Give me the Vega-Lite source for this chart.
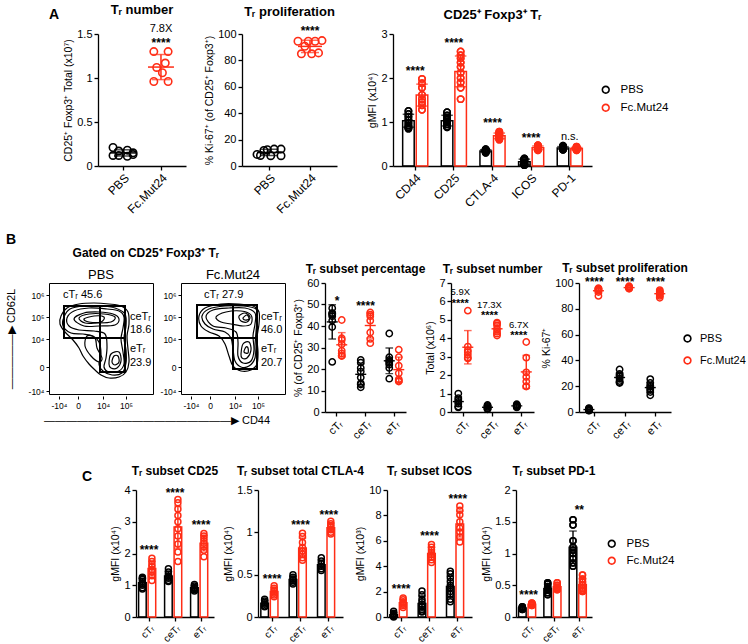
{
"$schema": "https://vega.github.io/schema/vega-lite/v6.json",
"background": "white",
"padding": {"left": 5, "top": 3, "right": 2, "bottom": 2},
"spacing": 17,
"resolve": {"scale": {"color": "independent"}},
"config": {
  "font": "Liberation Sans",
  "view": {"stroke": null},
  "axis": {"grid": false, "domainColor": "black", "domainWidth": 1.3, "tickColor": "black", "tickWidth": 1.3, "tickSize": 4, "labelColor": "black", "labelFontSize": 11, "titleFontSize": 10.5, "titleFontWeight": "normal", "titleColor": "black", "labelPadding": 2, "titlePadding": 3, "labelOverlap": false},
  "title": {"fontSize": 12, "fontWeight": "bold", "color": "black", "offset": 6},
  "header": {"labelColor": "black", "titleColor": "black"},
  "legend": {"labelColor": "black"}
},
"vconcat": [
{
  "spacing": 4,
  "resolve": {"scale": {"color": "independent"}},
  "hconcat": [
    {"width": 10, "height": 132, "title": {"text": "A", "anchor": "end", "fontSize": 14, "dy": -6}, "data": {"values": []}, "mark": "point"},
    {
      "spacing": 56,
      "bounds": "flush",
      "resolve": {"scale": {"color": "independent"}},
      "hconcat": [
    {
      "width": 88, "height": 132,
      "title": {"text": "Tᵣ number", "fontSize": 13},
      "data": {"values": [
        {"g":"PBS","m":1,"v":0.21},{"g":"PBS","m":3,"v":0.17},{"g":"PBS","m":6,"v":0.18},{"g":"PBS","m":8,"v":0.15},
        {"g":"PBS","m":1,"v":0.12},{"g":"PBS","m":3,"v":0.12},{"g":"PBS","m":6,"v":0.11},{"g":"PBS","m":8,"v":0.13},
        {"g":"Fc.Mut24","m":2,"v":1.30},{"g":"Fc.Mut24","m":7,"v":1.30},{"g":"Fc.Mut24","m":6,"v":1.17},{"g":"Fc.Mut24","m":3,"v":1.12},
        {"g":"Fc.Mut24","m":5,"v":1.06},{"g":"Fc.Mut24","m":2,"v":0.96},{"g":"Fc.Mut24","m":7,"v":0.96}
      ]},
      "encoding": {
        "x": {"field":"g","type":"nominal","sort":["PBS","Fc.Mut24"],"scale":{"type":"point","padding":0.66},"axis":{"title":null,"labelAngle":-45,"labelFontSize":12}},
        "color": {"field":"g","type":"nominal","scale":{"domain":["PBS","Fc.Mut24"],"range":["black","#ff2d16"]},"legend":null}
      },
      "layer": [
        {"mark": {"type":"errorbar","extent":"stdev","ticks":true,"thickness":1.5},
         "encoding": {"y": {"field":"v","type":"quantitative","title":"CD25⁺ Foxp3⁺ Total (x10⁷)","scale":{"domain":[0,1.5],"nice":false},"axis":{"values":[0,0.5,1,1.5],"format":"~g","tickCount":20}}}},
        {"mark": {"type":"tick","thickness":1.5,"size":26,"opacity":1},
         "encoding": {"y": {"aggregate":"mean","field":"v","type":"quantitative","title":"CD25⁺ Foxp3⁺ Total (x10⁷)"}}},
        {"mark": {"type":"point","shape":"circle","filled":false,"size":55,"strokeWidth":1.6,"opacity":1},
         "encoding": {"y": {"field":"v","type":"quantitative","title":"CD25⁺ Foxp3⁺ Total (x10⁷)"},
                      "xOffset": {"field":"m","type":"quantitative","scale":{"domain":[1,8],"range":[-10,10]}}}},
        {"data": {"values": [{"g":"Fc.Mut24","y":1.40,"t":"****"}]},
         "mark": {"type":"text","fontSize":12,"fontWeight":"bold","baseline":"middle"},
         "encoding": {"y": {"field":"y","type":"quantitative","title":"CD25⁺ Foxp3⁺ Total (x10⁷)"},"text":{"field":"t"},"color":{"value":"black"}}},
        {"data": {"values": [{"g":"Fc.Mut24","y":1.56,"t":"7.8X"}]},
         "mark": {"type":"text","fontSize":11,"baseline":"middle"},
         "encoding": {"y": {"field":"y","type":"quantitative","title":"CD25⁺ Foxp3⁺ Total (x10⁷)"},"text":{"field":"t"},"color":{"value":"black"}}}
      ]
    },
    {
      "width": 95, "height": 132,
      "title": {"text": "Tᵣ proliferation", "fontSize": 13},
      "data": {"values": [
        {"g":"PBS","m":1,"v":8.8},{"g":"PBS","m":2,"v":8.0},{"g":"PBS","m":3,"v":11.8},{"g":"PBS","m":4,"v":12.3},
        {"g":"PBS","m":5,"v":7.8},{"g":"PBS","m":6,"v":12.8},{"g":"PBS","m":8,"v":12.8},{"g":"PBS","m":8,"v":7.8},
        {"g":"Fc.Mut24","m":1,"v":94.5},{"g":"Fc.Mut24","m":2,"v":85},{"g":"Fc.Mut24","m":3,"v":90.7},{"g":"Fc.Mut24","m":4,"v":94.5},
        {"g":"Fc.Mut24","m":5,"v":85},{"g":"Fc.Mut24","m":6,"v":94.5},{"g":"Fc.Mut24","m":7,"v":85.7},{"g":"Fc.Mut24","m":8,"v":95}
      ]},
      "encoding": {
        "x": {"field":"g","type":"nominal","sort":["PBS","Fc.Mut24"],"scale":{"type":"point","padding":0.66},"axis":{"title":null,"labelAngle":-45,"labelFontSize":12}},
        "color": {"field":"g","type":"nominal","scale":{"domain":["PBS","Fc.Mut24"],"range":["black","#ff2d16"]},"legend":null}
      },
      "layer": [
        {"mark": {"type":"errorbar","extent":"stdev","ticks":true,"thickness":1.5},
         "encoding": {"y": {"field":"v","type":"quantitative","title":"% Ki-67⁺ (of CD25⁺ Foxp3⁺)","scale":{"domain":[0,100],"nice":false},"axis":{"values":[0,20,40,60,80,100],"format":"d","tickCount":20}}}},
        {"mark": {"type":"tick","thickness":1.5,"size":24,"opacity":1},
         "encoding": {"y": {"aggregate":"mean","field":"v","type":"quantitative","title":"% Ki-67⁺ (of CD25⁺ Foxp3⁺)"}}},
        {"mark": {"type":"point","shape":"circle","filled":false,"size":55,"strokeWidth":1.6,"opacity":1},
         "encoding": {"y": {"field":"v","type":"quantitative","title":"% Ki-67⁺ (of CD25⁺ Foxp3⁺)"},
                      "xOffset": {"field":"m","type":"quantitative","scale":{"domain":[1,8],"range":[-12,12]}}}},
        {"data": {"values": [{"g":"Fc.Mut24","y":102,"t":"****"}]},
         "mark": {"type":"text","fontSize":12,"fontWeight":"bold","baseline":"middle"},
         "encoding": {"y": {"field":"y","type":"quantitative","title":"% Ki-67⁺ (of CD25⁺ Foxp3⁺)"},"text":{"field":"t"},"color":{"value":"black"}}}
      ]
    },
    {
      "width": 199, "height": 132,
      "title": {"text": "CD25⁺ Foxp3⁺ Tᵣ", "fontSize": 13},
      "layer": [
        {"data": {"values": [
          {"c":"CD44","g":"PBS","v":1.25},{"c":"CD44","g":"PBS","v":1.18},{"c":"CD44","g":"PBS","v":1.12},{"c":"CD44","g":"PBS","v":1.05},{"c":"CD44","g":"PBS","v":0.98},{"c":"CD44","g":"PBS","v":0.92},{"c":"CD44","g":"PBS","v":0.88},{"c":"CD44","g":"PBS","v":0.85},
          {"c":"CD44","g":"Fc.Mut24","v":1.98},{"c":"CD44","g":"Fc.Mut24","v":1.88},{"c":"CD44","g":"Fc.Mut24","v":1.78},{"c":"CD44","g":"Fc.Mut24","v":1.62},{"c":"CD44","g":"Fc.Mut24","v":1.52},{"c":"CD44","g":"Fc.Mut24","v":1.45},{"c":"CD44","g":"Fc.Mut24","v":1.38},{"c":"CD44","g":"Fc.Mut24","v":1.28},
          {"c":"CD25","g":"PBS","v":1.22},{"c":"CD25","g":"PBS","v":1.15},{"c":"CD25","g":"PBS","v":1.10},{"c":"CD25","g":"PBS","v":1.05},{"c":"CD25","g":"PBS","v":1.00},{"c":"CD25","g":"PBS","v":0.95},{"c":"CD25","g":"PBS","v":0.90},{"c":"CD25","g":"PBS","v":0.88},
          {"c":"CD25","g":"Fc.Mut24","v":2.60},{"c":"CD25","g":"Fc.Mut24","v":2.52},{"c":"CD25","g":"Fc.Mut24","v":2.45},{"c":"CD25","g":"Fc.Mut24","v":2.35},{"c":"CD25","g":"Fc.Mut24","v":2.25},{"c":"CD25","g":"Fc.Mut24","v":2.12},{"c":"CD25","g":"Fc.Mut24","v":2.00},{"c":"CD25","g":"Fc.Mut24","v":1.90},{"c":"CD25","g":"Fc.Mut24","v":1.78},{"c":"CD25","g":"Fc.Mut24","v":1.52},
          {"c":"CTLA-4","g":"PBS","v":0.38},{"c":"CTLA-4","g":"PBS","v":0.36},{"c":"CTLA-4","g":"PBS","v":0.35},{"c":"CTLA-4","g":"PBS","v":0.33},{"c":"CTLA-4","g":"PBS","v":0.32},{"c":"CTLA-4","g":"PBS","v":0.34},{"c":"CTLA-4","g":"PBS","v":0.30},{"c":"CTLA-4","g":"PBS","v":0.37},
          {"c":"CTLA-4","g":"Fc.Mut24","v":0.78},{"c":"CTLA-4","g":"Fc.Mut24","v":0.75},{"c":"CTLA-4","g":"Fc.Mut24","v":0.72},{"c":"CTLA-4","g":"Fc.Mut24","v":0.70},{"c":"CTLA-4","g":"Fc.Mut24","v":0.67},{"c":"CTLA-4","g":"Fc.Mut24","v":0.64},{"c":"CTLA-4","g":"Fc.Mut24","v":0.60},{"c":"CTLA-4","g":"Fc.Mut24","v":0.62},
          {"c":"ICOS","g":"PBS","v":0.17},{"c":"ICOS","g":"PBS","v":0.16},{"c":"ICOS","g":"PBS","v":0.14},{"c":"ICOS","g":"PBS","v":0.12},{"c":"ICOS","g":"PBS","v":0.08},{"c":"ICOS","g":"PBS","v":0.05},{"c":"ICOS","g":"PBS","v":0.03},{"c":"ICOS","g":"PBS","v":0.02},
          {"c":"ICOS","g":"Fc.Mut24","v":0.47},{"c":"ICOS","g":"Fc.Mut24","v":0.46},{"c":"ICOS","g":"Fc.Mut24","v":0.44},{"c":"ICOS","g":"Fc.Mut24","v":0.42},{"c":"ICOS","g":"Fc.Mut24","v":0.40},{"c":"ICOS","g":"Fc.Mut24","v":0.38},{"c":"ICOS","g":"Fc.Mut24","v":0.37},{"c":"ICOS","g":"Fc.Mut24","v":0.36},
          {"c":"PD-1","g":"PBS","v":0.46},{"c":"PD-1","g":"PBS","v":0.44},{"c":"PD-1","g":"PBS","v":0.42},{"c":"PD-1","g":"PBS","v":0.40},{"c":"PD-1","g":"PBS","v":0.38},{"c":"PD-1","g":"PBS","v":0.37},{"c":"PD-1","g":"PBS","v":0.42},{"c":"PD-1","g":"PBS","v":0.39},
          {"c":"PD-1","g":"Fc.Mut24","v":0.44},{"c":"PD-1","g":"Fc.Mut24","v":0.42},{"c":"PD-1","g":"Fc.Mut24","v":0.40},{"c":"PD-1","g":"Fc.Mut24","v":0.38},{"c":"PD-1","g":"Fc.Mut24","v":0.36},{"c":"PD-1","g":"Fc.Mut24","v":0.37},{"c":"PD-1","g":"Fc.Mut24","v":0.41},{"c":"PD-1","g":"Fc.Mut24","v":0.39}
        ]},
         "encoding": {
           "x": {"field":"c","type":"nominal","sort":["CD44","CD25","CTLA-4","ICOS","PD-1"],"scale":{"paddingInner":0.35,"paddingOuter":0.25},"axis":{"title":null,"labelAngle":-45,"labelFontSize":12}},
           "xOffset": {"field":"g","type":"nominal","sort":["PBS","Fc.Mut24"],"scale":{"paddingInner":0.15,"paddingOuter":0}},
           "color": {"field":"g","type":"nominal","sort":["PBS","Fc.Mut24"],"scale":{"domain":["PBS","Fc.Mut24"],"range":["black","#ff2d16"]},
                     "legend":{"title":null,"orient":"none","legendX":207,"legendY":50,"symbolType":"M-1,0A1,1,0,1,0,1,0A1,1,0,1,0,-1,0ZM-0.62,0A0.62,0.62,0,1,1,0.62,0A0.62,0.62,0,1,1,-0.62,0Z","symbolSize":70,"symbolStrokeWidth":0,"symbolOpacity":1,"labelFontSize":11.5,"rowPadding":5,"labelOffset":9,"padding":0}}
         },
         "layer": [
           {"mark": {"type":"point","shape":"circle","filled":false,"size":42,"strokeWidth":1.5,"opacity":1},
            "encoding": {"y": {"field":"v","type":"quantitative","title":"gMFI (x10⁴)","scale":{"domain":[0,3],"nice":false},"axis":{"values":[0,1,2,3],"format":"d","tickCount":20}}}},
           {"mark": {"type":"bar","filled":false,"strokeWidth":1.5},
            "encoding": {"y": {"aggregate":"mean","field":"v","type":"quantitative","title":"gMFI (x10⁴)"}}},
           {"mark": {"type":"errorbar","extent":"stdev","ticks":true,"thickness":1.5},
            "encoding": {"y": {"field":"v","type":"quantitative","title":"gMFI (x10⁴)"}}},
           {"mark": {"type":"point","shape":"circle","filled":false,"size":42,"strokeWidth":1.5,"opacity":1},
            "encoding": {"y": {"field":"v","type":"quantitative","title":"gMFI (x10⁴)"}}}
         ]},
        {"data": {"values": [{"c":"CD44","y":2.17,"t":"****"},{"c":"CD25","y":2.8,"t":"****"},{"c":"CTLA-4","y":0.97,"t":"****"},{"c":"ICOS","y":0.63,"t":"****"}]},
         "mark": {"type":"text","fontSize":12,"fontWeight":"bold","baseline":"middle"},
         "encoding": {"x": {"field":"c","type":"nominal","sort":["CD44","CD25","CTLA-4","ICOS","PD-1"]},"y": {"field":"y","type":"quantitative","title":"gMFI (x10⁴)"},"text":{"field":"t"}}},
        {"data": {"values": [{"c":"PD-1","y":0.66,"t":"n.s."}]},
         "mark": {"type":"text","fontSize":11,"baseline":"middle"},
         "encoding": {"x": {"field":"c","type":"nominal","sort":["CD44","CD25","CTLA-4","ICOS","PD-1"]},"y": {"field":"y","type":"quantitative","title":"gMFI (x10⁴)"},"text":{"field":"t"}}}
      ]
    }
      ]
    }
  ]
},
{
  "spacing": 24,
  "resolve": {"scale": {"color": "independent"}},
  "vconcat": [
  {
    "title": {"text": "B", "anchor": "start", "fontSize": 14, "offset": 0},
    "spacing": 7,
    "resolve": {"scale": {"color": "independent"}},
    "hconcat": [
      {
        "title": {"text": "Gated on CD25⁺ Foxp3⁺ Tᵣ", "fontSize": 12, "offset": 9, "anchor": "middle"},
        "data": {"values": [
          {"k":"g","t":"PBS","r":"1","x":15,"x2":51,"y":56,"y2":88},{"k":"g","t":"PBS","r":"1","x":51,"x2":76,"y":56,"y2":88},{"k":"g","t":"PBS","r":"1","x":51,"x2":76,"y":22,"y2":56},
          {"k":"g","t":"Fc.Mut24","r":"1","x":16,"x2":52,"y":56,"y2":89},{"k":"g","t":"Fc.Mut24","r":"1","x":52,"x2":76,"y":56,"y2":89},{"k":"g","t":"Fc.Mut24","r":"1","x":52,"x2":76,"y":25,"y2":56},
          {"k":"s","t":"PBS","r":"1","x":14,"y":99,"s":"cTᵣ 45.6"},{"k":"s","t":"PBS","r":"1","x":81,"y":77,"s":"ceTᵣ"},{"k":"s","t":"PBS","r":"1","x":81,"y":64,"s":"18.6"},{"k":"s","t":"PBS","r":"1","x":81,"y":45,"s":"eTᵣ"},{"k":"s","t":"PBS","r":"1","x":81,"y":31,"s":"23.9"},
          {"k":"s","t":"Fc.Mut24","r":"1","x":23,"y":99,"s":"cTᵣ 27.9"},{"k":"s","t":"Fc.Mut24","r":"1","x":80,"y":77,"s":"ceTᵣ"},{"k":"s","t":"Fc.Mut24","r":"1","x":80,"y":64,"s":"46.0"},{"k":"s","t":"Fc.Mut24","r":"1","x":80,"y":45,"s":"eTᵣ"},{"k":"s","t":"Fc.Mut24","r":"1","x":80,"y":31,"s":"20.7"},
          {"k":"c","t":"PBS","r":"1","l":"L1","o":1,"x":12,"y":78},{"k":"c","t":"PBS","r":"1","l":"L1","o":2,"x":18,"y":86},{"k":"c","t":"PBS","r":"1","l":"L1","o":3,"x":30,"y":90},{"k":"c","t":"PBS","r":"1","l":"L1","o":4,"x":45,"y":91},{"k":"c","t":"PBS","r":"1","l":"L1","o":5,"x":60,"y":90},{"k":"c","t":"PBS","r":"1","l":"L1","o":6,"x":72,"y":88},{"k":"c","t":"PBS","r":"1","l":"L1","o":7,"x":79,"y":82},{"k":"c","t":"PBS","r":"1","l":"L1","o":8,"x":80,"y":70},{"k":"c","t":"PBS","r":"1","l":"L1","o":9,"x":78,"y":58},{"k":"c","t":"PBS","r":"1","l":"L1","o":10,"x":79,"y":45},{"k":"c","t":"PBS","r":"1","l":"L1","o":11,"x":80,"y":32},{"k":"c","t":"PBS","r":"1","l":"L1","o":12,"x":77,"y":22},{"k":"c","t":"PBS","r":"1","l":"L1","o":13,"x":70,"y":17},{"k":"c","t":"PBS","r":"1","l":"L1","o":14,"x":60,"y":16},{"k":"c","t":"PBS","r":"1","l":"L1","o":15,"x":52,"y":19},{"k":"c","t":"PBS","r":"1","l":"L1","o":16,"x":46,"y":24},{"k":"c","t":"PBS","r":"1","l":"L1","o":17,"x":40,"y":30},{"k":"c","t":"PBS","r":"1","l":"L1","o":18,"x":34,"y":38},{"k":"c","t":"PBS","r":"1","l":"L1","o":19,"x":30,"y":46},{"k":"c","t":"PBS","r":"1","l":"L1","o":20,"x":24,"y":54},{"k":"c","t":"PBS","r":"1","l":"L1","o":21,"x":16,"y":62},{"k":"c","t":"PBS","r":"1","l":"L1","o":22,"x":11,"y":70},
          {"k":"c","t":"PBS","r":"1","l":"L7","o":1,"x":15,"y":77},{"k":"c","t":"PBS","r":"1","l":"L7","o":2,"x":21,"y":85},{"k":"c","t":"PBS","r":"1","l":"L7","o":3,"x":35,"y":88},{"k":"c","t":"PBS","r":"1","l":"L7","o":4,"x":52,"y":88},{"k":"c","t":"PBS","r":"1","l":"L7","o":5,"x":66,"y":86},{"k":"c","t":"PBS","r":"1","l":"L7","o":6,"x":76,"y":80},{"k":"c","t":"PBS","r":"1","l":"L7","o":7,"x":77,"y":68},{"k":"c","t":"PBS","r":"1","l":"L7","o":8,"x":75,"y":56},{"k":"c","t":"PBS","r":"1","l":"L7","o":9,"x":77,"y":44},{"k":"c","t":"PBS","r":"1","l":"L7","o":10,"x":77,"y":31},{"k":"c","t":"PBS","r":"1","l":"L7","o":11,"x":73,"y":21},{"k":"c","t":"PBS","r":"1","l":"L7","o":12,"x":63,"y":19},{"k":"c","t":"PBS","r":"1","l":"L7","o":13,"x":54,"y":23},{"k":"c","t":"PBS","r":"1","l":"L7","o":14,"x":50,"y":30},{"k":"c","t":"PBS","r":"1","l":"L7","o":15,"x":52,"y":40},{"k":"c","t":"PBS","r":"1","l":"L7","o":16,"x":50,"y":52},{"k":"c","t":"PBS","r":"1","l":"L7","o":17,"x":44,"y":58},{"k":"c","t":"PBS","r":"1","l":"L7","o":18,"x":34,"y":60},{"k":"c","t":"PBS","r":"1","l":"L7","o":19,"x":22,"y":61},{"k":"c","t":"PBS","r":"1","l":"L7","o":20,"x":14,"y":68},
          {"k":"c","t":"PBS","r":"1","l":"L2","o":1,"x":18,"y":76},{"k":"c","t":"PBS","r":"1","l":"L2","o":2,"x":25,"y":83},{"k":"c","t":"PBS","r":"1","l":"L2","o":3,"x":40,"y":86},{"k":"c","t":"PBS","r":"1","l":"L2","o":4,"x":58,"y":85},{"k":"c","t":"PBS","r":"1","l":"L2","o":5,"x":70,"y":83},{"k":"c","t":"PBS","r":"1","l":"L2","o":6,"x":75,"y":77},{"k":"c","t":"PBS","r":"1","l":"L2","o":7,"x":74,"y":66},{"k":"c","t":"PBS","r":"1","l":"L2","o":8,"x":72,"y":55},{"k":"c","t":"PBS","r":"1","l":"L2","o":9,"x":74,"y":42},{"k":"c","t":"PBS","r":"1","l":"L2","o":10,"x":75,"y":30},{"k":"c","t":"PBS","r":"1","l":"L2","o":11,"x":70,"y":23},{"k":"c","t":"PBS","r":"1","l":"L2","o":12,"x":60,"y":22},{"k":"c","t":"PBS","r":"1","l":"L2","o":13,"x":55,"y":27},{"k":"c","t":"PBS","r":"1","l":"L2","o":14,"x":57,"y":36},{"k":"c","t":"PBS","r":"1","l":"L2","o":15,"x":58,"y":48},{"k":"c","t":"PBS","r":"1","l":"L2","o":16,"x":56,"y":60},{"k":"c","t":"PBS","r":"1","l":"L2","o":17,"x":45,"y":63},{"k":"c","t":"PBS","r":"1","l":"L2","o":18,"x":30,"y":64},{"k":"c","t":"PBS","r":"1","l":"L2","o":19,"x":20,"y":68},
          {"k":"c","t":"PBS","r":"1","l":"L3","o":1,"x":25,"y":75},{"k":"c","t":"PBS","r":"1","l":"L3","o":2,"x":35,"y":81},{"k":"c","t":"PBS","r":"1","l":"L3","o":3,"x":50,"y":82},{"k":"c","t":"PBS","r":"1","l":"L3","o":4,"x":64,"y":80},{"k":"c","t":"PBS","r":"1","l":"L3","o":5,"x":70,"y":75},{"k":"c","t":"PBS","r":"1","l":"L3","o":6,"x":66,"y":69},{"k":"c","t":"PBS","r":"1","l":"L3","o":7,"x":50,"y":68},{"k":"c","t":"PBS","r":"1","l":"L3","o":8,"x":35,"y":68},
          {"k":"c","t":"PBS","r":"1","l":"L8","o":1,"x":30,"y":76},{"k":"c","t":"PBS","r":"1","l":"L8","o":2,"x":40,"y":80},{"k":"c","t":"PBS","r":"1","l":"L8","o":3,"x":55,"y":80},{"k":"c","t":"PBS","r":"1","l":"L8","o":4,"x":66,"y":77},{"k":"c","t":"PBS","r":"1","l":"L8","o":5,"x":62,"y":72},{"k":"c","t":"PBS","r":"1","l":"L8","o":6,"x":48,"y":71},{"k":"c","t":"PBS","r":"1","l":"L8","o":7,"x":36,"y":71},
          {"k":"c","t":"PBS","r":"1","l":"L4","o":1,"x":60,"y":30},{"k":"c","t":"PBS","r":"1","l":"L4","o":2,"x":62,"y":40},{"k":"c","t":"PBS","r":"1","l":"L4","o":3,"x":70,"y":42},{"k":"c","t":"PBS","r":"1","l":"L4","o":4,"x":72,"y":33},{"k":"c","t":"PBS","r":"1","l":"L4","o":5,"x":68,"y":26},{"k":"c","t":"PBS","r":"1","l":"L4","o":6,"x":62,"y":26},
          {"k":"c","t":"PBS","r":"1","l":"L9","o":1,"x":63,"y":32},{"k":"c","t":"PBS","r":"1","l":"L9","o":2,"x":65,"y":38},{"k":"c","t":"PBS","r":"1","l":"L9","o":3,"x":69,"y":38},{"k":"c","t":"PBS","r":"1","l":"L9","o":4,"x":70,"y":32},{"k":"c","t":"PBS","r":"1","l":"L9","o":5,"x":66,"y":29},
          {"k":"c","t":"PBS","r":"1","l":"L5","o":1,"x":35,"y":75},{"k":"c","t":"PBS","r":"1","l":"L5","o":2,"x":45,"y":78},{"k":"c","t":"PBS","r":"1","l":"L5","o":3,"x":55,"y":77},{"k":"c","t":"PBS","r":"1","l":"L5","o":4,"x":52,"y":72},{"k":"c","t":"PBS","r":"1","l":"L5","o":5,"x":40,"y":72},
          {"k":"c","t":"PBS","r":"1","l":"L6","o":1,"x":38,"y":58},{"k":"c","t":"PBS","r":"1","l":"L6","o":2,"x":36,"y":48},{"k":"c","t":"PBS","r":"1","l":"L6","o":3,"x":42,"y":38},{"k":"c","t":"PBS","r":"1","l":"L6","o":4,"x":50,"y":32},{"k":"c","t":"PBS","r":"1","l":"L6","o":5,"x":53,"y":36},{"k":"c","t":"PBS","r":"1","l":"L6","o":6,"x":48,"y":46},{"k":"c","t":"PBS","r":"1","l":"L6","o":7,"x":46,"y":56},
          {"k":"c","t":"Fc.Mut24","r":"1","l":"M1","o":1,"x":18,"y":78},{"k":"c","t":"Fc.Mut24","r":"1","l":"M1","o":2,"x":24,"y":86},{"k":"c","t":"Fc.Mut24","r":"1","l":"M1","o":3,"x":40,"y":90},{"k":"c","t":"Fc.Mut24","r":"1","l":"M1","o":4,"x":58,"y":90},{"k":"c","t":"Fc.Mut24","r":"1","l":"M1","o":5,"x":72,"y":88},{"k":"c","t":"Fc.Mut24","r":"1","l":"M1","o":6,"x":78,"y":82},{"k":"c","t":"Fc.Mut24","r":"1","l":"M1","o":7,"x":78,"y":70},{"k":"c","t":"Fc.Mut24","r":"1","l":"M1","o":8,"x":76,"y":56},{"k":"c","t":"Fc.Mut24","r":"1","l":"M1","o":9,"x":77,"y":42},{"k":"c","t":"Fc.Mut24","r":"1","l":"M1","o":10,"x":76,"y":30},{"k":"c","t":"Fc.Mut24","r":"1","l":"M1","o":11,"x":70,"y":24},{"k":"c","t":"Fc.Mut24","r":"1","l":"M1","o":12,"x":60,"y":23},{"k":"c","t":"Fc.Mut24","r":"1","l":"M1","o":13,"x":52,"y":28},{"k":"c","t":"Fc.Mut24","r":"1","l":"M1","o":14,"x":48,"y":38},{"k":"c","t":"Fc.Mut24","r":"1","l":"M1","o":15,"x":44,"y":50},{"k":"c","t":"Fc.Mut24","r":"1","l":"M1","o":16,"x":38,"y":58},{"k":"c","t":"Fc.Mut24","r":"1","l":"M1","o":17,"x":28,"y":62},{"k":"c","t":"Fc.Mut24","r":"1","l":"M1","o":18,"x":20,"y":68},
          {"k":"c","t":"Fc.Mut24","r":"1","l":"M6","o":1,"x":21,"y":78},{"k":"c","t":"Fc.Mut24","r":"1","l":"M6","o":2,"x":28,"y":85},{"k":"c","t":"Fc.Mut24","r":"1","l":"M6","o":3,"x":44,"y":88},{"k":"c","t":"Fc.Mut24","r":"1","l":"M6","o":4,"x":62,"y":88},{"k":"c","t":"Fc.Mut24","r":"1","l":"M6","o":5,"x":75,"y":85},{"k":"c","t":"Fc.Mut24","r":"1","l":"M6","o":6,"x":76,"y":76},{"k":"c","t":"Fc.Mut24","r":"1","l":"M6","o":7,"x":75,"y":62},{"k":"c","t":"Fc.Mut24","r":"1","l":"M6","o":8,"x":74,"y":48},{"k":"c","t":"Fc.Mut24","r":"1","l":"M6","o":9,"x":74,"y":36},{"k":"c","t":"Fc.Mut24","r":"1","l":"M6","o":10,"x":68,"y":28},{"k":"c","t":"Fc.Mut24","r":"1","l":"M6","o":11,"x":60,"y":27},{"k":"c","t":"Fc.Mut24","r":"1","l":"M6","o":12,"x":54,"y":33},{"k":"c","t":"Fc.Mut24","r":"1","l":"M6","o":13,"x":52,"y":45},{"k":"c","t":"Fc.Mut24","r":"1","l":"M6","o":14,"x":50,"y":56},{"k":"c","t":"Fc.Mut24","r":"1","l":"M6","o":15,"x":44,"y":62},{"k":"c","t":"Fc.Mut24","r":"1","l":"M6","o":16,"x":32,"y":65},{"k":"c","t":"Fc.Mut24","r":"1","l":"M6","o":17,"x":24,"y":70},
          {"k":"c","t":"Fc.Mut24","r":"1","l":"M2","o":1,"x":25,"y":77},{"k":"c","t":"Fc.Mut24","r":"1","l":"M2","o":2,"x":32,"y":84},{"k":"c","t":"Fc.Mut24","r":"1","l":"M2","o":3,"x":48,"y":86},{"k":"c","t":"Fc.Mut24","r":"1","l":"M2","o":4,"x":64,"y":86},{"k":"c","t":"Fc.Mut24","r":"1","l":"M2","o":5,"x":74,"y":81},{"k":"c","t":"Fc.Mut24","r":"1","l":"M2","o":6,"x":74,"y":70},{"k":"c","t":"Fc.Mut24","r":"1","l":"M2","o":7,"x":72,"y":58},{"k":"c","t":"Fc.Mut24","r":"1","l":"M2","o":8,"x":73,"y":44},{"k":"c","t":"Fc.Mut24","r":"1","l":"M2","o":9,"x":70,"y":33},{"k":"c","t":"Fc.Mut24","r":"1","l":"M2","o":10,"x":62,"y":31},{"k":"c","t":"Fc.Mut24","r":"1","l":"M2","o":11,"x":57,"y":38},{"k":"c","t":"Fc.Mut24","r":"1","l":"M2","o":12,"x":57,"y":52},{"k":"c","t":"Fc.Mut24","r":"1","l":"M2","o":13,"x":55,"y":62},{"k":"c","t":"Fc.Mut24","r":"1","l":"M2","o":14,"x":45,"y":66},{"k":"c","t":"Fc.Mut24","r":"1","l":"M2","o":15,"x":32,"y":68},
          {"k":"c","t":"Fc.Mut24","r":"1","l":"M3","o":1,"x":35,"y":77},{"k":"c","t":"Fc.Mut24","r":"1","l":"M3","o":2,"x":45,"y":82},{"k":"c","t":"Fc.Mut24","r":"1","l":"M3","o":3,"x":60,"y":83},{"k":"c","t":"Fc.Mut24","r":"1","l":"M3","o":4,"x":70,"y":79},{"k":"c","t":"Fc.Mut24","r":"1","l":"M3","o":5,"x":70,"y":70},{"k":"c","t":"Fc.Mut24","r":"1","l":"M3","o":6,"x":62,"y":68},{"k":"c","t":"Fc.Mut24","r":"1","l":"M3","o":7,"x":50,"y":70},{"k":"c","t":"Fc.Mut24","r":"1","l":"M3","o":8,"x":40,"y":72},
          {"k":"c","t":"Fc.Mut24","r":"1","l":"M4","o":1,"x":58,"y":78},{"k":"c","t":"Fc.Mut24","r":"1","l":"M4","o":2,"x":64,"y":81},{"k":"c","t":"Fc.Mut24","r":"1","l":"M4","o":3,"x":69,"y":77},{"k":"c","t":"Fc.Mut24","r":"1","l":"M4","o":4,"x":66,"y":72},{"k":"c","t":"Fc.Mut24","r":"1","l":"M4","o":5,"x":60,"y":73},
          {"k":"c","t":"Fc.Mut24","r":"1","l":"M7","o":1,"x":62,"y":76},{"k":"c","t":"Fc.Mut24","r":"1","l":"M7","o":2,"x":66,"y":79},{"k":"c","t":"Fc.Mut24","r":"1","l":"M7","o":3,"x":68,"y":75},{"k":"c","t":"Fc.Mut24","r":"1","l":"M7","o":4,"x":64,"y":74},
          {"k":"c","t":"Fc.Mut24","r":"1","l":"M5","o":1,"x":60,"y":40},{"k":"c","t":"Fc.Mut24","r":"1","l":"M5","o":2,"x":62,"y":50},{"k":"c","t":"Fc.Mut24","r":"1","l":"M5","o":3,"x":68,"y":52},{"k":"c","t":"Fc.Mut24","r":"1","l":"M5","o":4,"x":70,"y":44},{"k":"c","t":"Fc.Mut24","r":"1","l":"M5","o":5,"x":66,"y":36},{"k":"c","t":"Fc.Mut24","r":"1","l":"M5","o":6,"x":61,"y":36},
          {"k":"c","t":"Fc.Mut24","r":"1","l":"M8","o":1,"x":63,"y":42},{"k":"c","t":"Fc.Mut24","r":"1","l":"M8","o":2,"x":65,"y":47},{"k":"c","t":"Fc.Mut24","r":"1","l":"M8","o":3,"x":67,"y":46},{"k":"c","t":"Fc.Mut24","r":"1","l":"M8","o":4,"x":67,"y":41}
        ]},
        "facet": {
          "row": {"field":"r","type":"nominal","header":{"title":"—————▶ CD62L","titleFontSize":11,"titleFontWeight":"normal","labels":false,"titlePadding":0,"labelPadding":0}},
          "column": {"field":"t","type":"nominal","sort":["PBS","Fc.Mut24"],"header":{"title":"—————————————————▶ CD44","titleOrient":"bottom","titleFontSize":11,"titleFontWeight":"normal","titlePadding":-5,"labelOrient":"top","labelFontSize":13,"labelPadding":0}}
        },
        "spacing": {"row": 0, "column": 5},
        "resolve": {"axis": {"y": "independent"}},
        "spec": {
          "width": 104, "height": 111,
          "view": {"stroke": "black", "strokeWidth": 1},
          "layer": [
            {"transform": [{"filter": "datum.k == 'c'"}],
             "mark": {"type":"line","color":"black","strokeWidth":1.2,"interpolate":"cardinal-closed"},
             "encoding": {
               "x": {"field":"x","type":"quantitative","title":null,"scale":{"domain":[0,104],"nice":false,"zero":false},"axis":{"values":[10,29,54,77],"tickCount":20,"labelExpr":"datum.value==10?'-10⁴':datum.value==29?'0':datum.value==54?'10⁴':'10⁵'","domain":false,"tickSize":3,"tickWidth":1,"labelFontSize":8.5,"labelAngle":0}},
               "y": {"field":"y","type":"quantitative","title":null,"scale":{"domain":[0,111],"nice":false,"zero":false},"axis":{"values":[3,27,55,77,99],"tickCount":20,"labelExpr":"datum.value==3?'-10⁴':datum.value==27?'0':datum.value==55?'10⁴':datum.value==77?'10⁵':'10⁶'","domain":false,"tickSize":3,"tickWidth":1,"labelFontSize":8.5}},
               "detail": {"field":"l"},
               "order": {"field":"o","type":"quantitative"}
             }},
            {"transform": [{"filter": "datum.k == 'g'"}],
             "mark": {"type":"rect","filled":false,"color":"black","strokeWidth":2},
             "encoding": {
               "x": {"field":"x","type":"quantitative","title":null},"x2":{"field":"x2"},
               "y": {"field":"y","type":"quantitative","title":null},"y2":{"field":"y2"}
             }},
            {"transform": [{"filter": "datum.k == 's'"}],
             "mark": {"type":"text","align":"left","baseline":"middle","fontSize":11,"color":"black"},
             "encoding": {
               "x": {"field":"x","type":"quantitative","title":null},
               "y": {"field":"y","type":"quantitative","title":null},
               "text": {"field":"s"}
             }}
          ]
        }
      },
      {
        "spacing": 45,
        "bounds": "flush",
        "resolve": {"scale": {"color": "independent"}},
        "hconcat": [
      {
        "width": 81, "height": 129,
        "title": {"text": "Tᵣ subset percentage", "offset": 1},
        "layer": [
          {"data": {"values": [
            {"c":"cTᵣ","g":"PBS","v":48.3},{"c":"cTᵣ","g":"PBS","v":46},{"c":"cTᵣ","g":"PBS","v":45.8},{"c":"cTᵣ","g":"PBS","v":45.2},{"c":"cTᵣ","g":"PBS","v":44.5},{"c":"cTᵣ","g":"PBS","v":42.6},{"c":"cTᵣ","g":"PBS","v":39.5},{"c":"cTᵣ","g":"PBS","v":23.3},
            {"c":"cTᵣ","g":"Fc.Mut24","v":42.8},{"c":"cTᵣ","g":"Fc.Mut24","v":34.3},{"c":"cTᵣ","g":"Fc.Mut24","v":33.5},{"c":"cTᵣ","g":"Fc.Mut24","v":31.5},{"c":"cTᵣ","g":"Fc.Mut24","v":28.5},{"c":"cTᵣ","g":"Fc.Mut24","v":27.2},{"c":"cTᵣ","g":"Fc.Mut24","v":26.2},{"c":"cTᵣ","g":"Fc.Mut24","v":26},
            {"c":"ceTᵣ","g":"PBS","v":24.2},{"c":"ceTᵣ","g":"PBS","v":23},{"c":"ceTᵣ","g":"PBS","v":20.5},{"c":"ceTᵣ","g":"PBS","v":18.8},{"c":"ceTᵣ","g":"PBS","v":16},{"c":"ceTᵣ","g":"PBS","v":13.4},{"c":"ceTᵣ","g":"PBS","v":12.8},{"c":"ceTᵣ","g":"PBS","v":11.5},
            {"c":"ceTᵣ","g":"Fc.Mut24","v":46.3},{"c":"ceTᵣ","g":"Fc.Mut24","v":45.3},{"c":"ceTᵣ","g":"Fc.Mut24","v":44.5},{"c":"ceTᵣ","g":"Fc.Mut24","v":42.5},{"c":"ceTᵣ","g":"Fc.Mut24","v":37},{"c":"ceTᵣ","g":"Fc.Mut24","v":34},{"c":"ceTᵣ","g":"Fc.Mut24","v":32},
            {"c":"eTᵣ","g":"PBS","v":36.5},{"c":"eTᵣ","g":"PBS","v":25.5},{"c":"eTᵣ","g":"PBS","v":24.2},{"c":"eTᵣ","g":"PBS","v":23.5},{"c":"eTᵣ","g":"PBS","v":22.8},{"c":"eTᵣ","g":"PBS","v":22},{"c":"eTᵣ","g":"PBS","v":20.5},{"c":"eTᵣ","g":"PBS","v":15.5},
            {"c":"eTᵣ","g":"Fc.Mut24","v":29},{"c":"eTᵣ","g":"Fc.Mut24","v":25.5},{"c":"eTᵣ","g":"Fc.Mut24","v":21.5},{"c":"eTᵣ","g":"Fc.Mut24","v":18},{"c":"eTᵣ","g":"Fc.Mut24","v":15.2},{"c":"eTᵣ","g":"Fc.Mut24","v":14.5},{"c":"eTᵣ","g":"Fc.Mut24","v":14.2}
          ]},
           "encoding": {
             "x": {"field":"c","type":"nominal","sort":["cTᵣ","ceTᵣ","eTᵣ"],"scale":{"paddingInner":0.4,"paddingOuter":0.12},"axis":{"title":null,"labelAngle":-45}},
             "xOffset": {"field":"g","type":"nominal","sort":["PBS","Fc.Mut24"],"scale":{"paddingInner":0.2,"paddingOuter":0}},
             "color": {"field":"g","type":"nominal","scale":{"domain":["PBS","Fc.Mut24"],"range":["black","#ff2d16"]},"legend":null}
           },
           "layer": [
             {"mark": {"type":"errorbar","extent":"stdev","ticks":true,"thickness":1.4},
              "encoding": {"y": {"field":"v","type":"quantitative","title":"% (of CD25⁺ Foxp3⁺)","scale":{"domain":[0,60],"nice":false},"axis":{"values":[0,10,20,30,40,50,60],"format":"d","tickCount":20}}}},
             {"mark": {"type":"tick","thickness":1.4,"size":11,"opacity":1},
              "encoding": {"y": {"aggregate":"mean","field":"v","type":"quantitative","title":"% (of CD25⁺ Foxp3⁺)"}}},
             {"mark": {"type":"point","shape":"circle","filled":false,"size":40,"strokeWidth":1.5,"opacity":1},
              "encoding": {"y": {"field":"v","type":"quantitative","title":"% (of CD25⁺ Foxp3⁺)"}}}
           ]},
          {"data": {"values": [{"c":"cTᵣ","y":51.5,"t":"*"},{"c":"ceTᵣ","y":49.4,"t":"****"}]},
           "mark": {"type":"text","fontSize":12,"fontWeight":"bold","baseline":"middle"},
           "encoding": {"x": {"field":"c","type":"nominal","sort":["cTᵣ","ceTᵣ","eTᵣ"]},"y": {"field":"y","type":"quantitative","title":"% (of CD25⁺ Foxp3⁺)"},"text":{"field":"t"}}}
        ]
      },
      {
        "width": 83, "height": 129,
        "title": {"text": "Tᵣ subset number", "offset": 1},
        "layer": [
          {"data": {"values": [
            {"c":"cTᵣ","g":"PBS","v":1.0},{"c":"cTᵣ","g":"PBS","v":0.75},{"c":"cTᵣ","g":"PBS","v":0.65},{"c":"cTᵣ","g":"PBS","v":0.55},{"c":"cTᵣ","g":"PBS","v":0.45},{"c":"cTᵣ","g":"PBS","v":0.3},{"c":"cTᵣ","g":"PBS","v":0.25},
            {"c":"cTᵣ","g":"Fc.Mut24","v":5.5},{"c":"cTᵣ","g":"Fc.Mut24","v":3.55},{"c":"cTᵣ","g":"Fc.Mut24","v":3.35},{"c":"cTᵣ","g":"Fc.Mut24","v":3.25},{"c":"cTᵣ","g":"Fc.Mut24","v":3.1},{"c":"cTᵣ","g":"Fc.Mut24","v":2.95},{"c":"cTᵣ","g":"Fc.Mut24","v":2.9},
            {"c":"ceTᵣ","g":"PBS","v":0.38},{"c":"ceTᵣ","g":"PBS","v":0.33},{"c":"ceTᵣ","g":"PBS","v":0.28},{"c":"ceTᵣ","g":"PBS","v":0.22},{"c":"ceTᵣ","g":"PBS","v":0.18},{"c":"ceTᵣ","g":"PBS","v":0.15},
            {"c":"ceTᵣ","g":"Fc.Mut24","v":4.85},{"c":"ceTᵣ","g":"Fc.Mut24","v":4.8},{"c":"ceTᵣ","g":"Fc.Mut24","v":4.7},{"c":"ceTᵣ","g":"Fc.Mut24","v":4.5},{"c":"ceTᵣ","g":"Fc.Mut24","v":4.35},{"c":"ceTᵣ","g":"Fc.Mut24","v":4.25},{"c":"ceTᵣ","g":"Fc.Mut24","v":4.15},
            {"c":"eTᵣ","g":"PBS","v":0.42},{"c":"eTᵣ","g":"PBS","v":0.38},{"c":"eTᵣ","g":"PBS","v":0.35},{"c":"eTᵣ","g":"PBS","v":0.3},{"c":"eTᵣ","g":"PBS","v":0.28},{"c":"eTᵣ","g":"PBS","v":0.25},
            {"c":"eTᵣ","g":"Fc.Mut24","v":3.8},{"c":"eTᵣ","g":"Fc.Mut24","v":2.95},{"c":"eTᵣ","g":"Fc.Mut24","v":2.15},{"c":"eTᵣ","g":"Fc.Mut24","v":1.9},{"c":"eTᵣ","g":"Fc.Mut24","v":1.65},{"c":"eTᵣ","g":"Fc.Mut24","v":1.4},{"c":"eTᵣ","g":"Fc.Mut24","v":1.38}
          ]},
           "encoding": {
             "x": {"field":"c","type":"nominal","sort":["cTᵣ","ceTᵣ","eTᵣ"],"scale":{"paddingInner":0.4,"paddingOuter":0.12},"axis":{"title":null,"labelAngle":-45}},
             "xOffset": {"field":"g","type":"nominal","sort":["PBS","Fc.Mut24"],"scale":{"paddingInner":0.2,"paddingOuter":0}},
             "color": {"field":"g","type":"nominal","scale":{"domain":["PBS","Fc.Mut24"],"range":["black","#ff2d16"]},"legend":null}
           },
           "layer": [
             {"mark": {"type":"errorbar","extent":"stdev","ticks":true,"thickness":1.4},
              "encoding": {"y": {"field":"v","type":"quantitative","title":"Total (x10⁶)","scale":{"domain":[0,7],"nice":false},"axis":{"values":[0,1,2,3,4,5,6,7],"format":"d","tickCount":20}}}},
             {"mark": {"type":"tick","thickness":1.4,"size":11,"opacity":1},
              "encoding": {"y": {"aggregate":"mean","field":"v","type":"quantitative","title":"Total (x10⁶)"}}},
             {"mark": {"type":"point","shape":"circle","filled":false,"size":40,"strokeWidth":1.5,"opacity":1},
              "encoding": {"y": {"field":"v","type":"quantitative","title":"Total (x10⁶)"}}}
           ]},
          {"data": {"values": [{"c":"cTᵣ","y":5.86,"t":"****"},{"c":"ceTᵣ","y":5.2,"t":"****"},{"c":"eTᵣ","y":4.12,"t":"****"}]},
           "mark": {"type":"text","fontSize":11,"fontWeight":"bold","baseline":"middle","dx":-3},
           "encoding": {"x": {"field":"c","type":"nominal","sort":["cTᵣ","ceTᵣ","eTᵣ"]},"y": {"field":"y","type":"quantitative","title":"Total (x10⁶)"},"text":{"field":"t"}}},
          {"data": {"values": [{"c":"cTᵣ","y":6.5,"t":"5.9X"},{"c":"ceTᵣ","y":5.82,"t":"17.3X"},{"c":"eTᵣ","y":4.72,"t":"6.7X"}]},
           "mark": {"type":"text","fontSize":9.5,"baseline":"middle","dx":-3},
           "encoding": {"x": {"field":"c","type":"nominal","sort":["cTᵣ","ceTᵣ","eTᵣ"]},"y": {"field":"y","type":"quantitative","title":"Total (x10⁶)"},"text":{"field":"t"}}}
        ]
      },
      {
        "width": 92, "height": 129,
        "title": {"text": "Tᵣ subset proliferation", "offset": 1},
        "layer": [
          {"data": {"values": [
            {"c":"cTᵣ","g":"PBS","v":3},{"c":"cTᵣ","g":"PBS","v":2.5},{"c":"cTᵣ","g":"PBS","v":2.2},{"c":"cTᵣ","g":"PBS","v":2},{"c":"cTᵣ","g":"PBS","v":1.8},{"c":"cTᵣ","g":"PBS","v":1.5},{"c":"cTᵣ","g":"PBS","v":1.2},{"c":"cTᵣ","g":"PBS","v":1},
            {"c":"cTᵣ","g":"Fc.Mut24","v":96},{"c":"cTᵣ","g":"Fc.Mut24","v":95.5},{"c":"cTᵣ","g":"Fc.Mut24","v":95},{"c":"cTᵣ","g":"Fc.Mut24","v":94.5},{"c":"cTᵣ","g":"Fc.Mut24","v":94},{"c":"cTᵣ","g":"Fc.Mut24","v":93},{"c":"cTᵣ","g":"Fc.Mut24","v":90},
            {"c":"ceTᵣ","g":"PBS","v":33},{"c":"ceTᵣ","g":"PBS","v":29.5},{"c":"ceTᵣ","g":"PBS","v":28.5},{"c":"ceTᵣ","g":"PBS","v":27.5},{"c":"ceTᵣ","g":"PBS","v":26},{"c":"ceTᵣ","g":"PBS","v":24},{"c":"ceTᵣ","g":"PBS","v":23},{"c":"ceTᵣ","g":"PBS","v":22.5},
            {"c":"ceTᵣ","g":"Fc.Mut24","v":97.5},{"c":"ceTᵣ","g":"Fc.Mut24","v":97},{"c":"ceTᵣ","g":"Fc.Mut24","v":96.5},{"c":"ceTᵣ","g":"Fc.Mut24","v":96.5},{"c":"ceTᵣ","g":"Fc.Mut24","v":96},{"c":"ceTᵣ","g":"Fc.Mut24","v":96},{"c":"ceTᵣ","g":"Fc.Mut24","v":95.5},
            {"c":"eTᵣ","g":"PBS","v":25.5},{"c":"eTᵣ","g":"PBS","v":22.5},{"c":"eTᵣ","g":"PBS","v":20.5},{"c":"eTᵣ","g":"PBS","v":19.5},{"c":"eTᵣ","g":"PBS","v":18},{"c":"eTᵣ","g":"PBS","v":17},{"c":"eTᵣ","g":"PBS","v":15.5},{"c":"eTᵣ","g":"PBS","v":13},
            {"c":"eTᵣ","g":"Fc.Mut24","v":94.5},{"c":"eTᵣ","g":"Fc.Mut24","v":93.5},{"c":"eTᵣ","g":"Fc.Mut24","v":92.5},{"c":"eTᵣ","g":"Fc.Mut24","v":92},{"c":"eTᵣ","g":"Fc.Mut24","v":91},{"c":"eTᵣ","g":"Fc.Mut24","v":90},{"c":"eTᵣ","g":"Fc.Mut24","v":88.5}
          ]},
           "encoding": {
             "x": {"field":"c","type":"nominal","sort":["cTᵣ","ceTᵣ","eTᵣ"],"scale":{"paddingInner":0.4,"paddingOuter":0.2},"axis":{"title":null,"labelAngle":-45}},
             "xOffset": {"field":"g","type":"nominal","sort":["PBS","Fc.Mut24"],"scale":{"paddingInner":0.2,"paddingOuter":0}},
             "color": {"field":"g","type":"nominal","sort":["PBS","Fc.Mut24"],"scale":{"domain":["PBS","Fc.Mut24"],"range":["black","#ff2d16"]},
                       "legend":{"title":null,"orient":"none","legendX":103,"legendY":50,"symbolType":"M-1,0A1,1,0,1,0,1,0A1,1,0,1,0,-1,0ZM-0.62,0A0.62,0.62,0,1,1,0.62,0A0.62,0.62,0,1,1,-0.62,0Z","symbolSize":70,"symbolStrokeWidth":0,"symbolOpacity":1,"labelFontSize":11,"rowPadding":10,"labelOffset":7,"padding":0}}
           },
           "layer": [
             {"mark": {"type":"point","shape":"circle","filled":false,"size":40,"strokeWidth":1.5,"opacity":1},
              "encoding": {"y": {"field":"v","type":"quantitative","title":"% Ki-67⁺","scale":{"domain":[0,100],"nice":false},"axis":{"values":[0,20,40,60,80,100],"format":"d","tickCount":20}}}},
             {"mark": {"type":"errorbar","extent":"stdev","ticks":true,"thickness":1.4},
              "encoding": {"y": {"field":"v","type":"quantitative","title":"% Ki-67⁺"}}},
             {"mark": {"type":"tick","thickness":1.4,"size":11,"opacity":1},
              "encoding": {"y": {"aggregate":"mean","field":"v","type":"quantitative","title":"% Ki-67⁺"}}}
           ]},
          {"data": {"values": [{"c":"cTᵣ","y":101,"t":"****"},{"c":"ceTᵣ","y":101,"t":"****"},{"c":"eTᵣ","y":101,"t":"****"}]},
           "mark": {"type":"text","fontSize":12,"fontWeight":"bold","baseline":"middle"},
           "encoding": {"x": {"field":"c","type":"nominal","sort":["cTᵣ","ceTᵣ","eTᵣ"]},"y": {"field":"y","type":"quantitative","title":"% Ki-67⁺"},"text":{"field":"t"}}}
        ]
      }
        ]
      }
    ]
  },
  {
    "spacing": 18,
    "resolve": {"scale": {"color": "independent"}},
    "hconcat": [
      {"width": 19, "height": 127, "title": {"text": "C", "anchor": "end", "fontSize": 14, "dx": 24}, "data": {"values": []}, "mark": "point"},
      {
        "spacing": 44,
        "bounds": "flush",
        "resolve": {"scale": {"color": "independent"}},
        "hconcat": [
      {
        "width": 78, "height": 127,
        "title": "Tᵣ subset CD25",
        "layer": [
          {"data": {"values": [
            {"c":"cTᵣ","g":"PBS","v":1.25},{"c":"cTᵣ","g":"PBS","v":1.22},{"c":"cTᵣ","g":"PBS","v":1.18},{"c":"cTᵣ","g":"PBS","v":1.12},{"c":"cTᵣ","g":"PBS","v":1.05},{"c":"cTᵣ","g":"PBS","v":1.0},{"c":"cTᵣ","g":"PBS","v":0.92},{"c":"cTᵣ","g":"PBS","v":0.88},
            {"c":"cTᵣ","g":"Fc.Mut24","v":1.85},{"c":"cTᵣ","g":"Fc.Mut24","v":1.75},{"c":"cTᵣ","g":"Fc.Mut24","v":1.65},{"c":"cTᵣ","g":"Fc.Mut24","v":1.58},{"c":"cTᵣ","g":"Fc.Mut24","v":1.5},{"c":"cTᵣ","g":"Fc.Mut24","v":1.42},{"c":"cTᵣ","g":"Fc.Mut24","v":1.3},{"c":"cTᵣ","g":"Fc.Mut24","v":1.15},
            {"c":"ceTᵣ","g":"PBS","v":1.52},{"c":"ceTᵣ","g":"PBS","v":1.42},{"c":"ceTᵣ","g":"PBS","v":1.35},{"c":"ceTᵣ","g":"PBS","v":1.28},{"c":"ceTᵣ","g":"PBS","v":1.22},{"c":"ceTᵣ","g":"PBS","v":1.15},{"c":"ceTᵣ","g":"PBS","v":1.12},
            {"c":"ceTᵣ","g":"Fc.Mut24","v":3.7},{"c":"ceTᵣ","g":"Fc.Mut24","v":3.6},{"c":"ceTᵣ","g":"Fc.Mut24","v":3.4},{"c":"ceTᵣ","g":"Fc.Mut24","v":3.2},{"c":"ceTᵣ","g":"Fc.Mut24","v":3.0},{"c":"ceTᵣ","g":"Fc.Mut24","v":2.78},{"c":"ceTᵣ","g":"Fc.Mut24","v":2.55},{"c":"ceTᵣ","g":"Fc.Mut24","v":2.3},{"c":"ceTᵣ","g":"Fc.Mut24","v":2.05},{"c":"ceTᵣ","g":"Fc.Mut24","v":1.75},
            {"c":"eTᵣ","g":"PBS","v":1.02},{"c":"eTᵣ","g":"PBS","v":0.98},{"c":"eTᵣ","g":"PBS","v":0.93},{"c":"eTᵣ","g":"PBS","v":0.9},{"c":"eTᵣ","g":"PBS","v":0.86},{"c":"eTᵣ","g":"PBS","v":0.82},
            {"c":"eTᵣ","g":"Fc.Mut24","v":2.63},{"c":"eTᵣ","g":"Fc.Mut24","v":2.55},{"c":"eTᵣ","g":"Fc.Mut24","v":2.48},{"c":"eTᵣ","g":"Fc.Mut24","v":2.4},{"c":"eTᵣ","g":"Fc.Mut24","v":2.32},{"c":"eTᵣ","g":"Fc.Mut24","v":2.22},{"c":"eTᵣ","g":"Fc.Mut24","v":2.1},{"c":"eTᵣ","g":"Fc.Mut24","v":1.9}
          ]},
           "encoding": {
             "x": {"field":"c","type":"nominal","sort":["cTᵣ","ceTᵣ","eTᵣ"],"scale":{"paddingInner":0.2,"paddingOuter":0.1},"axis":{"title":null,"labelAngle":-45,"labelFontSize":10}},
             "xOffset": {"field":"g","type":"nominal","sort":["PBS","Fc.Mut24"],"scale":{"paddingInner":0.3,"paddingOuter":0.1}},
             "color": {"field":"g","type":"nominal","scale":{"domain":["PBS","Fc.Mut24"],"range":["black","#ff2d16"]},"legend":null}
           },
           "layer": [
             {"mark": {"type":"bar","filled":false,"strokeWidth":1.5},
              "encoding": {"y": {"aggregate":"mean","field":"v","type":"quantitative","title":"gMFI (x10⁴)","scale":{"domain":[0,4],"nice":false},"axis":{"values":[0,1,2,3,4],"format":"d","tickCount":20}}}},
             {"mark": {"type":"errorbar","extent":"stdev","ticks":true,"thickness":1.4},
              "encoding": {"y": {"field":"v","type":"quantitative","title":"gMFI (x10⁴)"}}},
             {"mark": {"type":"point","shape":"circle","filled":false,"size":36,"strokeWidth":1.5,"opacity":1},
              "encoding": {"y": {"field":"v","type":"quantitative","title":"gMFI (x10⁴)"}}}
           ]},
          {"data": {"values": [{"c":"cTᵣ","y":2.11,"t":"****"},{"c":"ceTᵣ","y":3.92,"t":"****"},{"c":"eTᵣ","y":2.89,"t":"****"}]},
           "mark": {"type":"text","fontSize":12,"fontWeight":"bold","baseline":"middle"},
           "encoding": {"x": {"field":"c","type":"nominal","sort":["cTᵣ","ceTᵣ","eTᵣ"]},"y": {"field":"y","type":"quantitative","title":"gMFI (x10⁴)"},"text":{"field":"t"}}}
        ]
      },
      {
        "width": 85, "height": 127,
        "title": "Tᵣ subset total CTLA-4",
        "layer": [
          {"data": {"values": [
            {"c":"cTᵣ","g":"PBS","v":0.21},{"c":"cTᵣ","g":"PBS","v":0.19},{"c":"cTᵣ","g":"PBS","v":0.17},{"c":"cTᵣ","g":"PBS","v":0.15},{"c":"cTᵣ","g":"PBS","v":0.13},{"c":"cTᵣ","g":"PBS","v":0.12},
            {"c":"cTᵣ","g":"Fc.Mut24","v":0.37},{"c":"cTᵣ","g":"Fc.Mut24","v":0.34},{"c":"cTᵣ","g":"Fc.Mut24","v":0.32},{"c":"cTᵣ","g":"Fc.Mut24","v":0.3},{"c":"cTᵣ","g":"Fc.Mut24","v":0.28},{"c":"cTᵣ","g":"Fc.Mut24","v":0.26},{"c":"cTᵣ","g":"Fc.Mut24","v":0.24},
            {"c":"ceTᵣ","g":"PBS","v":0.5},{"c":"ceTᵣ","g":"PBS","v":0.47},{"c":"ceTᵣ","g":"PBS","v":0.45},{"c":"ceTᵣ","g":"PBS","v":0.43},{"c":"ceTᵣ","g":"PBS","v":0.41},{"c":"ceTᵣ","g":"PBS","v":0.39},
            {"c":"ceTᵣ","g":"Fc.Mut24","v":0.99},{"c":"ceTᵣ","g":"Fc.Mut24","v":0.95},{"c":"ceTᵣ","g":"Fc.Mut24","v":0.88},{"c":"ceTᵣ","g":"Fc.Mut24","v":0.82},{"c":"ceTᵣ","g":"Fc.Mut24","v":0.78},{"c":"ceTᵣ","g":"Fc.Mut24","v":0.74},{"c":"ceTᵣ","g":"Fc.Mut24","v":0.7},{"c":"ceTᵣ","g":"Fc.Mut24","v":0.67},
            {"c":"eTᵣ","g":"PBS","v":0.7},{"c":"eTᵣ","g":"PBS","v":0.66},{"c":"eTᵣ","g":"PBS","v":0.63},{"c":"eTᵣ","g":"PBS","v":0.6},{"c":"eTᵣ","g":"PBS","v":0.57},{"c":"eTᵣ","g":"PBS","v":0.55},
            {"c":"eTᵣ","g":"Fc.Mut24","v":1.13},{"c":"eTᵣ","g":"Fc.Mut24","v":1.1},{"c":"eTᵣ","g":"Fc.Mut24","v":1.08},{"c":"eTᵣ","g":"Fc.Mut24","v":1.06},{"c":"eTᵣ","g":"Fc.Mut24","v":1.03},{"c":"eTᵣ","g":"Fc.Mut24","v":1.0},{"c":"eTᵣ","g":"Fc.Mut24","v":0.98}
          ]},
           "encoding": {
             "x": {"field":"c","type":"nominal","sort":["cTᵣ","ceTᵣ","eTᵣ"],"scale":{"paddingInner":0.2,"paddingOuter":0.1},"axis":{"title":null,"labelAngle":-45,"labelFontSize":10}},
             "xOffset": {"field":"g","type":"nominal","sort":["PBS","Fc.Mut24"],"scale":{"paddingInner":0.3,"paddingOuter":0.1}},
             "color": {"field":"g","type":"nominal","scale":{"domain":["PBS","Fc.Mut24"],"range":["black","#ff2d16"]},"legend":null}
           },
           "layer": [
             {"mark": {"type":"bar","filled":false,"strokeWidth":1.5},
              "encoding": {"y": {"aggregate":"mean","field":"v","type":"quantitative","title":"gMFI (x10⁴)","scale":{"domain":[0,1.5],"nice":false},"axis":{"values":[0,0.5,1,1.5],"format":"~g","tickCount":20}}}},
             {"mark": {"type":"errorbar","extent":"stdev","ticks":true,"thickness":1.4},
              "encoding": {"y": {"field":"v","type":"quantitative","title":"gMFI (x10⁴)"}}},
             {"mark": {"type":"point","shape":"circle","filled":false,"size":36,"strokeWidth":1.5,"opacity":1},
              "encoding": {"y": {"field":"v","type":"quantitative","title":"gMFI (x10⁴)"}}}
           ]},
          {"data": {"values": [{"c":"cTᵣ","y":0.445,"t":"****"},{"c":"ceTᵣ","y":1.09,"t":"****"},{"c":"eTᵣ","y":1.21,"t":"****"}]},
           "mark": {"type":"text","fontSize":12,"fontWeight":"bold","baseline":"middle"},
           "encoding": {"x": {"field":"c","type":"nominal","sort":["cTᵣ","ceTᵣ","eTᵣ"]},"y": {"field":"y","type":"quantitative","title":"gMFI (x10⁴)"},"text":{"field":"t"}}}
        ]
      },
      {
        "width": 85, "height": 127,
        "title": "Tᵣ subset ICOS",
        "layer": [
          {"data": {"values": [
            {"c":"cTᵣ","g":"PBS","v":0.45},{"c":"cTᵣ","g":"PBS","v":0.3},{"c":"cTᵣ","g":"PBS","v":0.2},{"c":"cTᵣ","g":"PBS","v":0.1},{"c":"cTᵣ","g":"PBS","v":0.05},{"c":"cTᵣ","g":"PBS","v":0.0},
            {"c":"cTᵣ","g":"Fc.Mut24","v":1.5},{"c":"cTᵣ","g":"Fc.Mut24","v":1.35},{"c":"cTᵣ","g":"Fc.Mut24","v":1.2},{"c":"cTᵣ","g":"Fc.Mut24","v":1.1},{"c":"cTᵣ","g":"Fc.Mut24","v":1.0},{"c":"cTᵣ","g":"Fc.Mut24","v":0.9},{"c":"cTᵣ","g":"Fc.Mut24","v":0.75},
            {"c":"ceTᵣ","g":"PBS","v":2.05},{"c":"ceTᵣ","g":"PBS","v":1.75},{"c":"ceTᵣ","g":"PBS","v":1.4},{"c":"ceTᵣ","g":"PBS","v":1.2},{"c":"ceTᵣ","g":"PBS","v":1.0},{"c":"ceTᵣ","g":"PBS","v":0.8},{"c":"ceTᵣ","g":"PBS","v":0.6},{"c":"ceTᵣ","g":"PBS","v":0.45},{"c":"ceTᵣ","g":"PBS","v":0.4},
            {"c":"ceTᵣ","g":"Fc.Mut24","v":5.7},{"c":"ceTᵣ","g":"Fc.Mut24","v":5.5},{"c":"ceTᵣ","g":"Fc.Mut24","v":5.3},{"c":"ceTᵣ","g":"Fc.Mut24","v":5.1},{"c":"ceTᵣ","g":"Fc.Mut24","v":4.9},{"c":"ceTᵣ","g":"Fc.Mut24","v":4.7},{"c":"ceTᵣ","g":"Fc.Mut24","v":4.5},{"c":"ceTᵣ","g":"Fc.Mut24","v":4.3},
            {"c":"eTᵣ","g":"PBS","v":3.6},{"c":"eTᵣ","g":"PBS","v":3.4},{"c":"eTᵣ","g":"PBS","v":3.1},{"c":"eTᵣ","g":"PBS","v":2.8},{"c":"eTᵣ","g":"PBS","v":2.5},{"c":"eTᵣ","g":"PBS","v":2.3},{"c":"eTᵣ","g":"PBS","v":2.0},{"c":"eTᵣ","g":"PBS","v":1.8},{"c":"eTᵣ","g":"PBS","v":1.4},{"c":"eTᵣ","g":"PBS","v":1.2},
            {"c":"eTᵣ","g":"Fc.Mut24","v":8.75},{"c":"eTᵣ","g":"Fc.Mut24","v":8.4},{"c":"eTᵣ","g":"Fc.Mut24","v":8.05},{"c":"eTᵣ","g":"Fc.Mut24","v":7.5},{"c":"eTᵣ","g":"Fc.Mut24","v":7.0},{"c":"eTᵣ","g":"Fc.Mut24","v":6.7},{"c":"eTᵣ","g":"Fc.Mut24","v":6.3},{"c":"eTᵣ","g":"Fc.Mut24","v":5.9}
          ]},
           "encoding": {
             "x": {"field":"c","type":"nominal","sort":["cTᵣ","ceTᵣ","eTᵣ"],"scale":{"paddingInner":0.2,"paddingOuter":0.1},"axis":{"title":null,"labelAngle":-45,"labelFontSize":10}},
             "xOffset": {"field":"g","type":"nominal","sort":["PBS","Fc.Mut24"],"scale":{"paddingInner":0.3,"paddingOuter":0.1}},
             "color": {"field":"g","type":"nominal","scale":{"domain":["PBS","Fc.Mut24"],"range":["black","#ff2d16"]},"legend":null}
           },
           "layer": [
             {"mark": {"type":"bar","filled":false,"strokeWidth":1.5},
              "encoding": {"y": {"aggregate":"mean","field":"v","type":"quantitative","title":"gMFI (x10³)","scale":{"domain":[0,10],"nice":false},"axis":{"values":[0,2,4,6,8,10],"format":"d","tickCount":20}}}},
             {"mark": {"type":"errorbar","extent":"stdev","ticks":true,"thickness":1.4},
              "encoding": {"y": {"field":"v","type":"quantitative","title":"gMFI (x10³)"}}},
             {"mark": {"type":"point","shape":"circle","filled":false,"size":36,"strokeWidth":1.5,"opacity":1},
              "encoding": {"y": {"field":"v","type":"quantitative","title":"gMFI (x10³)"}}}
           ]},
          {"data": {"values": [{"c":"cTᵣ","y":2.18,"t":"****"},{"c":"ceTᵣ","y":6.4,"t":"****"},{"c":"eTᵣ","y":9.3,"t":"****"}]},
           "mark": {"type":"text","fontSize":12,"fontWeight":"bold","baseline":"middle"},
           "encoding": {"x": {"field":"c","type":"nominal","sort":["cTᵣ","ceTᵣ","eTᵣ"]},"y": {"field":"y","type":"quantitative","title":"gMFI (x10³)"},"text":{"field":"t"}}}
        ]
      },
      {
        "width": 76, "height": 127,
        "title": "Tᵣ subset PD-1",
        "layer": [
          {"data": {"values": [
            {"c":"cTᵣ","g":"PBS","v":0.16},{"c":"cTᵣ","g":"PBS","v":0.15},{"c":"cTᵣ","g":"PBS","v":0.14},{"c":"cTᵣ","g":"PBS","v":0.13},{"c":"cTᵣ","g":"PBS","v":0.12},
            {"c":"cTᵣ","g":"Fc.Mut24","v":0.22},{"c":"cTᵣ","g":"Fc.Mut24","v":0.21},{"c":"cTᵣ","g":"Fc.Mut24","v":0.2},{"c":"cTᵣ","g":"Fc.Mut24","v":0.19},{"c":"cTᵣ","g":"Fc.Mut24","v":0.18},
            {"c":"ceTᵣ","g":"PBS","v":0.54},{"c":"ceTᵣ","g":"PBS","v":0.52},{"c":"ceTᵣ","g":"PBS","v":0.48},{"c":"ceTᵣ","g":"PBS","v":0.45},{"c":"ceTᵣ","g":"PBS","v":0.42},{"c":"ceTᵣ","g":"PBS","v":0.38},{"c":"ceTᵣ","g":"PBS","v":0.35},
            {"c":"ceTᵣ","g":"Fc.Mut24","v":0.54},{"c":"ceTᵣ","g":"Fc.Mut24","v":0.5},{"c":"ceTᵣ","g":"Fc.Mut24","v":0.47},{"c":"ceTᵣ","g":"Fc.Mut24","v":0.45},{"c":"ceTᵣ","g":"Fc.Mut24","v":0.43},
            {"c":"eTᵣ","g":"PBS","v":1.53},{"c":"eTᵣ","g":"PBS","v":1.45},{"c":"eTᵣ","g":"PBS","v":1.2},{"c":"eTᵣ","g":"PBS","v":1.1},{"c":"eTᵣ","g":"PBS","v":1.05},{"c":"eTᵣ","g":"PBS","v":1.0},{"c":"eTᵣ","g":"PBS","v":0.92},{"c":"eTᵣ","g":"PBS","v":0.85},{"c":"eTᵣ","g":"PBS","v":0.8},
            {"c":"eTᵣ","g":"Fc.Mut24","v":0.66},{"c":"eTᵣ","g":"Fc.Mut24","v":0.6},{"c":"eTᵣ","g":"Fc.Mut24","v":0.55},{"c":"eTᵣ","g":"Fc.Mut24","v":0.5},{"c":"eTᵣ","g":"Fc.Mut24","v":0.45},{"c":"eTᵣ","g":"Fc.Mut24","v":0.42},{"c":"eTᵣ","g":"Fc.Mut24","v":0.4}
          ]},
           "encoding": {
             "x": {"field":"c","type":"nominal","sort":["cTᵣ","ceTᵣ","eTᵣ"],"scale":{"paddingInner":0.2,"paddingOuter":0.1},"axis":{"title":null,"labelAngle":-45,"labelFontSize":10}},
             "xOffset": {"field":"g","type":"nominal","sort":["PBS","Fc.Mut24"],"scale":{"paddingInner":0.3,"paddingOuter":0.1}},
             "color": {"field":"g","type":"nominal","sort":["PBS","Fc.Mut24"],"scale":{"domain":["PBS","Fc.Mut24"],"range":["black","#ff2d16"]},
                       "legend":{"title":null,"orient":"none","legendX":90,"legendY":48,"symbolType":"M-1,0A1,1,0,1,0,1,0A1,1,0,1,0,-1,0ZM-0.62,0A0.62,0.62,0,1,1,0.62,0A0.62,0.62,0,1,1,-0.62,0Z","symbolSize":70,"symbolStrokeWidth":0,"symbolOpacity":1,"labelFontSize":11.5,"rowPadding":4,"labelOffset":9,"padding":0}}
           },
           "layer": [
             {"mark": {"type":"point","shape":"circle","filled":false,"size":36,"strokeWidth":1.5,"opacity":1},
              "encoding": {"y": {"field":"v","type":"quantitative","title":"gMFI (x10⁴)","scale":{"domain":[0,2],"nice":false},"axis":{"values":[0,0.5,1,1.5,2],"format":"~g","tickCount":20}}}},
             {"mark": {"type":"bar","filled":false,"strokeWidth":1.5},
              "encoding": {"y": {"aggregate":"mean","field":"v","type":"quantitative","title":"gMFI (x10⁴)"}}},
             {"mark": {"type":"errorbar","extent":"stdev","ticks":true,"thickness":1.4},
              "encoding": {"y": {"field":"v","type":"quantitative","title":"gMFI (x10⁴)"}}},
             {"mark": {"type":"point","shape":"circle","filled":false,"size":36,"strokeWidth":1.5,"opacity":1},
              "encoding": {"y": {"field":"v","type":"quantitative","title":"gMFI (x10⁴)"}}}
           ]},
          {"data": {"values": [{"c":"cTᵣ","y":0.34,"t":"****"},{"c":"eTᵣ","y":1.68,"t":"**"}]},
           "mark": {"type":"text","fontSize":12,"fontWeight":"bold","baseline":"middle"},
           "encoding": {"x": {"field":"c","type":"nominal","sort":["cTᵣ","ceTᵣ","eTᵣ"]},"y": {"field":"y","type":"quantitative","title":"gMFI (x10⁴)"},"text":{"field":"t"}}}
        ]
      }
        ]
      }
    ]
  }
  ]
}
]
}
